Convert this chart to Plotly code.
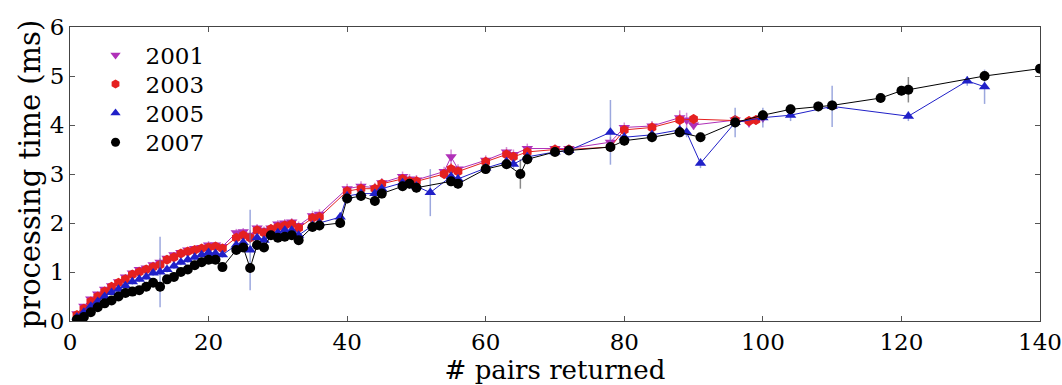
import plotly.graph_objects as go

# ---- data ----
x2001 = [1,2,3,4,5,6,7,8,9,10,11,12,13,14,15,16,17,18,19,20,21,22,24,25,26,27,28,29,30,31,32,33,35,36,
         40,42,44,45,48,49,50,54,55,56,60,63,64,66,70,72,78,80,84,88,89,90,96,98,100]
y2001 = [0.15,0.3,0.45,0.55,0.65,0.72,0.8,0.9,0.98,1.05,1.08,1.15,1.2,1.28,1.35,1.4,1.45,1.48,1.5,1.55,1.55,1.52,1.8,1.82,1.75,1.9,1.85,1.9,1.98,2.0,2.02,1.95,2.15,2.18,
         2.7,2.75,2.72,2.82,2.95,2.9,2.88,3.05,3.35,3.1,3.28,3.45,3.4,3.52,3.52,3.52,3.65,3.95,3.98,4.15,4.1,4.0,4.1,4.05,4.15]
e2001 = [0.03,0.03,0.04,0.04,0.05,0.05,0.05,0.05,0.06,0.06,0.06,0.06,0.08,0.06,0.06,0.06,0.06,0.06,0.06,0.08,0.06,0.06,0.08,0.08,0.1,0.08,0.08,0.08,0.08,0.08,0.08,0.08,0.1,0.1,
         0.1,0.1,0.1,0.1,0.1,0.1,0.1,0.1,0.15,0.1,0.1,0.1,0.1,0.1,0.08,0.08,0.1,0.1,0.1,0.15,0.15,0.1,0.1,0.1,0.1]

x2003 = [1,2,3,4,5,6,7,8,9,10,11,12,13,14,15,16,17,18,19,20,21,22,24,25,26,27,28,29,30,31,32,33,35,36,
         40,42,44,45,48,49,50,54,55,56,60,63,64,66,70,72,78,80,84,88,90,96,98,99]
y2003 = [0.12,0.25,0.4,0.5,0.6,0.7,0.78,0.85,0.95,1.0,1.05,1.1,1.15,1.25,1.3,1.38,1.42,1.45,1.48,1.5,1.52,1.48,1.7,1.75,1.7,1.85,1.8,1.88,1.92,1.95,1.98,1.9,2.1,2.12,
         2.65,2.7,2.7,2.8,2.9,2.85,2.85,3.0,3.1,3.05,3.25,3.4,3.35,3.45,3.5,3.5,3.55,3.9,3.95,4.1,4.12,4.1,4.08,4.1]
e2003 = [0.03,0.03,0.04,0.04,0.05,0.05,0.05,0.05,0.06,0.06,0.06,0.06,0.08,0.06,0.06,0.06,0.06,0.06,0.06,0.08,0.06,0.06,0.08,0.08,0.1,0.08,0.08,0.08,0.08,0.08,0.08,0.08,0.1,0.1,
         0.1,0.1,0.1,0.1,0.1,0.1,0.1,0.1,0.12,0.1,0.1,0.1,0.1,0.1,0.08,0.08,0.1,0.1,0.1,0.12,0.1,0.1,0.1,0.1]

x2005 = [1,2,3,4,5,6,7,8,9,10,11,12,13,14,15,16,17,18,19,20,21,22,24,25,26,27,28,29,30,31,32,33,35,36,39,
         40,42,44,45,48,49,50,52,55,56,60,63,64,66,70,72,78,80,84,88,89,91,96,100,104,110,121,129.5,132]
y2005 = [0.08,0.18,0.3,0.4,0.5,0.58,0.65,0.72,0.8,0.85,0.9,0.98,1.0,1.05,1.12,1.2,1.25,1.3,1.35,1.4,1.38,1.35,1.55,1.6,1.45,1.7,1.65,1.75,1.8,1.85,1.85,1.75,1.95,2.0,2.12,
         2.55,2.6,2.6,2.7,2.82,2.8,2.75,2.62,2.95,2.9,3.12,3.25,3.2,3.35,3.45,3.48,3.85,3.75,3.8,3.9,3.85,3.22,4.05,4.15,4.2,4.38,4.18,4.9,4.78]
e2005 = [0.03,0.03,0.04,0.04,0.05,0.05,0.05,0.05,0.06,0.06,0.06,0.06,0.72,0.06,0.06,0.06,0.06,0.06,0.06,0.08,0.06,0.06,0.08,0.08,0.82,0.08,0.08,0.08,0.08,0.08,0.08,0.08,0.1,0.1,0.1,
         0.1,0.1,0.1,0.1,0.1,0.1,0.1,0.48,0.1,0.1,0.1,0.1,0.1,0.1,0.08,0.08,0.66,0.1,0.1,0.1,0.1,0.1,0.3,0.2,0.12,0.42,0.1,0.1,0.35]

x2007 = [1,2,3,4,5,6,7,8,9,10,11,12,13,14,15,16,17,18,19,20,21,22,24,25,26,27,28,29,30,31,32,33,35,36,39,
         40,42,44,45,48,49,50,55,56,60,63,65,66,70,72,78,80,84,88,91,96,100,104,108,110,117,120,121,132,140]
y2007 = [0.03,0.08,0.18,0.28,0.36,0.42,0.5,0.57,0.6,0.63,0.7,0.78,0.7,0.85,0.9,1.0,1.05,1.14,1.2,1.25,1.25,1.1,1.45,1.5,1.08,1.55,1.5,1.75,1.7,1.72,1.75,1.65,1.92,1.95,2.0,
         2.5,2.55,2.45,2.6,2.75,2.8,2.72,2.85,2.8,3.1,3.2,3.0,3.3,3.45,3.48,3.55,3.68,3.75,3.85,3.75,4.05,4.2,4.32,4.38,4.4,4.55,4.7,4.72,5.0,5.15]
e2007 = [0.03,0.03,0.04,0.04,0.05,0.05,0.05,0.05,0.06,0.06,0.06,0.06,0.1,0.06,0.06,0.06,0.06,0.06,0.06,0.08,0.06,0.06,0.08,0.08,0.1,0.08,0.08,0.08,0.08,0.08,0.08,0.08,0.1,0.1,0.1,
         0.1,0.1,0.1,0.1,0.1,0.1,0.1,0.1,0.1,0.1,0.1,0.3,0.1,0.08,0.08,0.1,0.1,0.1,0.1,0.1,0.1,0.1,0.1,0.1,0.1,0.1,0.1,0.26,0.08,0.06]

years = ["2001", "2003", "2005", "2007"]
colors = ["#b030b8", "#e52020", "#2020c8", "#000000"]
err_colors = ["rgba(176,48,184,0.55)", "rgba(229,32,32,0.55)", "rgba(90,110,200,0.6)", "rgba(60,60,60,0.6)"]
symbols = ["triangle-down", "hexagon", "triangle-up", "circle"]
xs = [x2001, x2003, x2005, x2007]
ys = [y2001, y2003, y2005, y2007]
es = [e2001, e2003, e2005, e2007]

FONT = "DejaVu Serif, Liberation Serif, serif"

fig = go.Figure()
for name, c, ec, s, x, y, e in zip(years, colors, err_colors, symbols, xs, ys, es):
    fig.add_trace(go.Scatter(
        x=x, y=y, mode="lines+markers", name=name, showlegend=False,
        line=dict(color=c, width=1),
        marker=dict(symbol=s, size=10, color=c, line=dict(width=0)),
        error_y=dict(type="data", array=e, visible=True, color=ec, thickness=1.5, width=0),
    ))

# legend-only entries (marker only, as in the reference), one small legend per year
legend_rows = [0.905, 0.806, 0.707, 0.608]
legend_layouts = {}
for i, (name, c, s) in enumerate(zip(years, colors, symbols)):
    key = "legend" if i == 0 else f"legend{i+1}"
    fig.add_trace(go.Scatter(
        x=[None], y=[None], mode="markers", name=name, legend=key,
        marker=dict(symbol=s, size=9, color=c),
    ))
    legend_layouts[key] = dict(
        x=0.016, y=legend_rows[i], xanchor="left", yanchor="middle",
        font=dict(family=FONT, size=23, color="black"),
        bgcolor="rgba(0,0,0,0)", itemwidth=50, borderwidth=0,
    )

axis_common = dict(
    showline=True, linecolor="#444", linewidth=1, mirror="ticks",
    ticks="inside", ticklen=5, tickcolor="#555", tickwidth=1,
    showgrid=False, zeroline=False, automargin=False,
    ticklabeloverflow="allow",
    tickfont=dict(family=FONT, size=23, color="black"),
)
fig.update_xaxes(range=[0, 140], tickvals=[0, 20, 40, 60, 80, 100, 120, 140],
                 title=dict(text="# pairs returned", font=dict(family=FONT, size=26, color="black"), standoff=5),
                 **axis_common)
fig.update_yaxes(range=[0, 6], tickvals=[0, 1, 2, 3, 4, 5, 6],
                 title=dict(text="processing time (ms)", font=dict(family=FONT, size=29, color="black"), standoff=0),
                 **axis_common)

fig.update_layout(
    width=1062, height=385,
    margin=dict(l=70, r=22, t=27, b=64, autoexpand=False),
    paper_bgcolor="white", plot_bgcolor="white",
    showlegend=True,
    **legend_layouts,
)

fig.write_html("out.html")
